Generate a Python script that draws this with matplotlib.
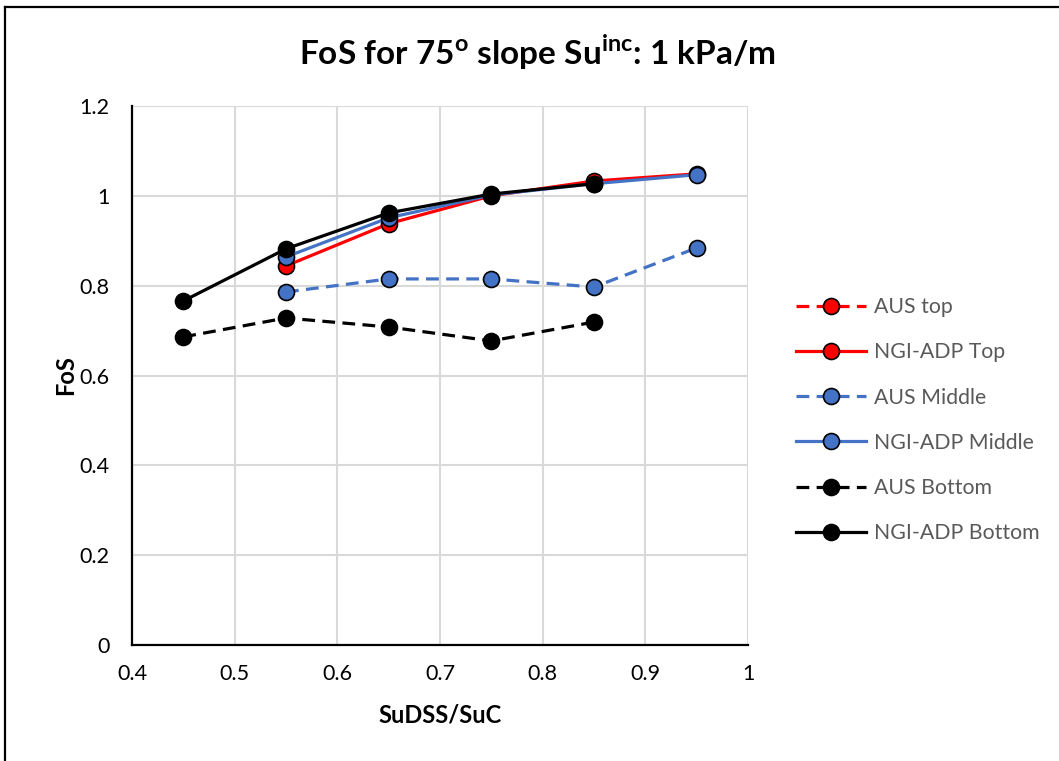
import numpy as np
import matplotlib
matplotlib.use("Agg")
import matplotlib.pyplot as plt
from matplotlib.lines import Line2D

plt.rcParams['font.family'] = ['Lato', 'DejaVu Sans']

# SuDSS/SuC ratios
x = [0.45, 0.55, 0.65, 0.75, 0.85, 0.95]

nan = np.nan
aus_top = [nan, nan, nan, nan, nan, nan]
ngi_top = [nan, 0.844, 0.938, 1.000, 1.033, 1.049]
aus_middle = [nan, 0.786, 0.815, 0.815, 0.797, 0.884]
ngi_middle = [nan, 0.864, 0.951, 1.002, 1.027, 1.047]
aus_bottom = [0.686, 0.728, 0.708, 0.677, 0.719, nan]
ngi_bottom = [0.766, 0.882, 0.962, 1.004, 1.027, nan]

labels = ["AUS top", "NGI-ADP Top", "AUS Middle", "NGI-ADP Middle",
          "AUS Bottom", "NGI-ADP Bottom"]

RED = "#FF0000"
BLUE = "#4472C4"
BLACK = "#000000"

fig = plt.figure(figsize=(10.59, 7.61), dpi=100)
ax = fig.add_axes([132 / 1059, 1 - 645 / 761, (748 - 132) / 1059, (645 - 106) / 761])

lw = 2.3
ms = 11.5
dash = (4.0, 2.3)

series = [
    (aus_top, RED, True),
    (ngi_top, RED, False),
    (aus_middle, BLUE, True),
    (ngi_middle, BLUE, False),
    (aus_bottom, BLACK, True),
    (ngi_bottom, BLACK, False),
]

handles = []
for (vals, color, dashed), label in zip(series, labels):
    kw = dict(color=color, lw=lw, marker='o', markersize=ms,
              markerfacecolor=color, markeredgecolor='black',
              markeredgewidth=1.2, label=label)
    if dashed:
        kw['dashes'] = dash
    line, = ax.plot(x, vals, **kw)
    handles.append(line)

ax.set_xlim(0.4, 1.0)
ax.set_ylim(0, 1.2)
ax.set_xticks(np.arange(0.4, 1.01, 0.1))
ax.set_xticklabels(["0.4", "0.5", "0.6", "0.7", "0.8", "0.9", "1"])
ax.set_yticks(np.arange(0, 1.21, 0.2))
ax.set_yticklabels(["0", "0.2", "0.4", "0.6", "0.8", "1", "1.2"])
ax.grid(True, color="#D9D9D9", lw=1.5)
ax.set_axisbelow(True)
for side in ("top", "right"):
    ax.spines[side].set_visible(False)
for side in ("left", "bottom"):
    ax.spines[side].set_linewidth(1.6)
    ax.spines[side].set_color("black")
ax.tick_params(length=0, labelsize=15.5, colors="black")
ax.tick_params(axis='x', pad=14)
ax.tick_params(axis='y', pad=16)

ax.set_xlabel("SuDSS/SuC", fontsize=17, fontweight='bold', labelpad=14)
ax.set_ylabel("FoS", fontsize=17, fontweight='bold', labelpad=2)

fig.text(0.5 + (537 - 529.5) / 1059, 1 - 52 / 761,
         r"FoS for 75$^{\mathregular{o}}$ slope Su$^{\mathregular{inc}}$: 1 kPa/m",
         ha='center', va='center', fontsize=24, fontweight='bold')

leg = fig.legend(handles=handles, labels=labels, loc='upper left',
                 bbox_to_anchor=(796 / 1059, 1 - 297 / 761),
                 frameon=False, fontsize=15.3, labelcolor="#595959",
                 handlelength=3.3, handletextpad=0.35, labelspacing=1.19,
                 borderpad=0, borderaxespad=0)

# figure frame (top and left edges)
fig.add_artist(Line2D([5 / 1059, 5 / 1059], [0, 1 - 7 / 761],
                      transform=fig.transFigure, color='black', lw=1.6))
fig.add_artist(Line2D([5 / 1059, 1], [1 - 7 / 761, 1 - 7 / 761],
                      transform=fig.transFigure, color='black', lw=1.6))

fig.savefig("out.png", dpi=100)
